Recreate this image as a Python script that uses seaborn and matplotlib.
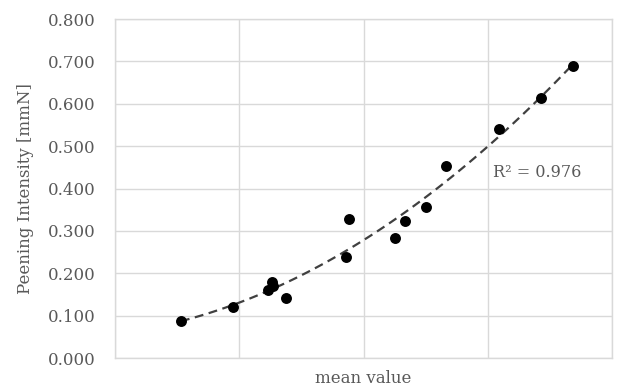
import numpy as np
import pandas as pd
import matplotlib
matplotlib.use("Agg")
import matplotlib.pyplot as plt
import seaborn as sns

# Data
mean_value = [0.53, 0.95, 1.23, 1.26, 1.27, 1.38, 1.86, 1.88, 2.25, 2.33, 2.50, 2.66, 3.09, 3.43, 3.69]
intensity = [0.088, 0.120, 0.160, 0.180, 0.170, 0.142, 0.238, 0.328, 0.283, 0.323, 0.356, 0.453, 0.540, 0.614, 0.689]
y_ticks = [0.0, 0.1, 0.2, 0.3, 0.4, 0.5, 0.6, 0.7, 0.8]
x_grid = [0, 1, 2, 3, 4]
r2_label = "R² = 0.976"

sns.set_theme(style="white")
plt.rcParams['font.family'] = ['DejaVu Serif']
text_color = "#595959"
grid_color = "#d9d9d9"

fig = plt.figure(figsize=(6.19, 3.90), dpi=100)
ax = fig.add_axes([0.1858, 0.082, 0.8029, 0.869])

df = pd.DataFrame({"x": mean_value, "y": intensity})

# quadratic trend line
coef = np.polyfit(df["x"], df["y"], 2)
xs = np.linspace(min(mean_value), max(mean_value), 100)
trend = pd.DataFrame({"x": xs, "y": np.polyval(coef, xs)})
sns.lineplot(data=trend, x="x", y="y", ax=ax, color="#404040", lw=1.6,
             linestyle=(0, (4, 2.5)), zorder=3)
sns.scatterplot(data=df, x="x", y="y", ax=ax, color="black", s=62,
                edgecolor="black", linewidth=0, zorder=4)

ax.set_xlim(x_grid[0], x_grid[-1])
ax.set_ylim(y_ticks[0], y_ticks[-1])
ax.set_xticks(x_grid)
ax.set_xticklabels([])
ax.set_yticks(y_ticks)
ax.set_yticklabels([f"{v:.3f}" for v in y_ticks])
ax.grid(True, color=grid_color, lw=1)
ax.set_axisbelow(True)
for s in ax.spines.values():
    s.set_color(grid_color)
    s.set_linewidth(1)
ax.tick_params(axis="y", length=0, pad=14, labelsize=12, labelcolor=text_color)
ax.tick_params(axis="x", length=0)

ax.set_xlabel("mean value", fontsize=12, color=text_color, labelpad=5)
ax.set_ylabel("Peening Intensity [mmN]", fontsize=12, color=text_color, labelpad=10)

ax.text(3.04, 0.437, r2_label, fontsize=11.5, color=text_color, ha="left", va="center")

fig.savefig("out.png", dpi=100)
